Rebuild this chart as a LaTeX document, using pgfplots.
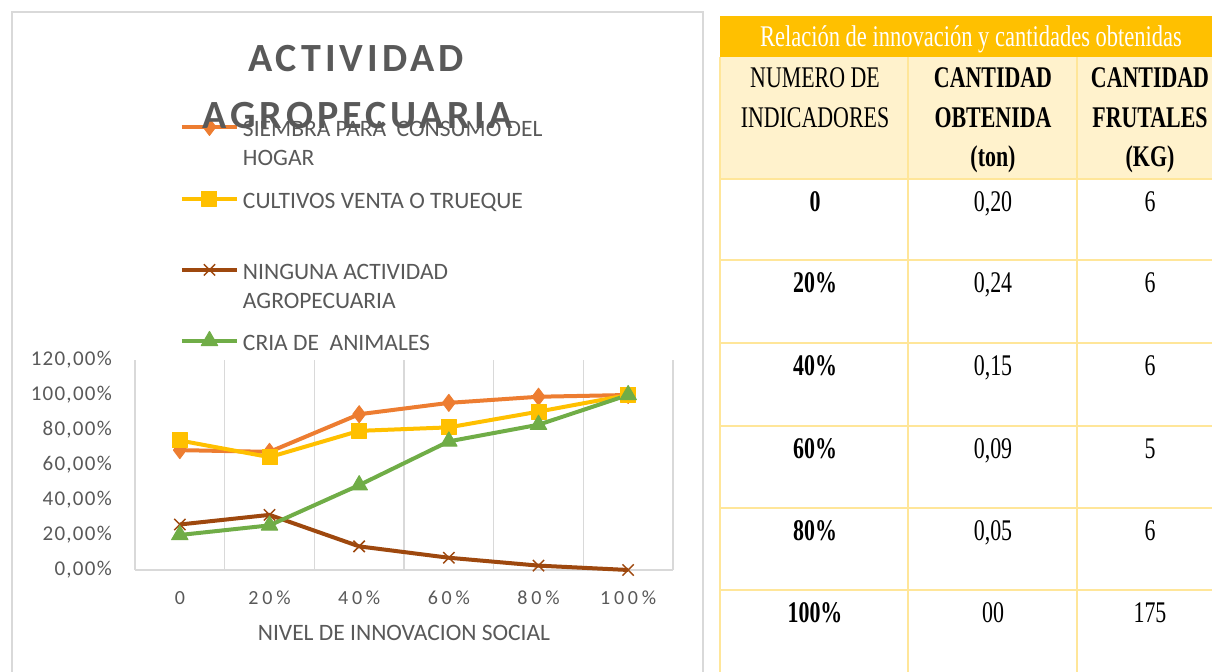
\documentclass[border=0pt]{standalone}
\usepackage{fontspec}
\setmainfont{Carlito}
\newfontfamily\tnr[FakeStretch=0.73]{Liberation Serif}
\newfontfamily\tnrw[FakeStretch=0.75]{Liberation Serif}
\usepackage{pgfplots}
\pgfplotsset{compat=1.18}

\definecolor{cOrange}{HTML}{ED7D31}
\definecolor{cYellow}{HTML}{FFC000}
\definecolor{cBrown}{HTML}{9E480E}
\definecolor{cGreen}{HTML}{70AD47}
\definecolor{txt}{HTML}{595959}
\definecolor{gridc}{HTML}{D9D9D9}
\definecolor{hdr}{HTML}{FFC000}
\definecolor{hdrlight}{HTML}{FFF2CC}
\definecolor{tline}{HTML}{FFE699}

\newcommand\xtf{\fontsize{20bp}{24bp}\selectfont\addfontfeatures{LetterSpace=19}}
\newcommand\ytf{\fontsize{21bp}{25bp}\selectfont\addfontfeatures{LetterSpace=6}}
\newcommand\lgf{\fontsize{23.5bp}{29.5bp}\selectfont}
\newcommand\ttf{\fontsize{40bp}{48bp}\selectfont\bfseries\addfontfeatures{LetterSpace=10}}
\newcommand\tabf{\tnr\fontsize{30bp}{36bp}\selectfont}

\pgfplotsset{
  sOrange/.style={cOrange, line width=4bp, line join=round, mark=diamond*, mark size=8.5bp, mark options={solid, fill=cOrange, draw=cOrange, line width=1bp}},
  sYellow/.style={cYellow, line width=4bp, line join=round, mark=square*, mark size=7.5bp, mark options={solid, fill=cYellow, draw=cYellow, line width=1bp}},
  sBrown/.style={cBrown, line width=4bp, line join=round, mark=x, mark size=8bp, mark options={solid, draw=cBrown, line width=1.5bp}},
  sGreen/.style={cGreen, line width=4bp, line join=round, mark=triangle*, mark size=9.5bp, mark options={solid, fill=cGreen, draw=cGreen, line width=1bp}},
  legaxis/.style={
    at={(135bp,102bp)}, anchor=south west,
    scale only axis, width=538bp, height=210bp,
    xmin=0, xmax=1, ymin=0, ymax=1, hide axis,
    legend image code/.code={\draw[mark repeat=2,mark phase=2,##1] plot coordinates {(0bp,0bp) (27.5bp,0bp) (55bp,0bp)};},
    legend cell align=left,
    legend style={at={(axis description cs:0.0836,#1)}, anchor=north west, draw=none, fill=none,
      inner sep=0pt, outer sep=0pt, font=\lgf, text=txt, column sep=4bp,
      nodes={inner sep=0pt}},
  },
}

\begin{document}
\begin{tikzpicture}
\useasboundingbox (0,0) rectangle (1212bp,672bp);
\fill[white] (0,0) rectangle (1212bp,672bp);
\draw[gridc, line width=1.5bp] (12bp,0bp) -- (12bp,660bp) -- (703bp,660bp) -- (703bp,0bp);

\begin{axis}[
  at={(135bp,102bp)}, anchor=south west,
  scale only axis, width=538bp, height=210bp,
  xmin=-0.5, xmax=5.5, ymin=0, ymax=120,
  axis line style={draw=none},
  major tick length=0pt, minor tick length=0pt,
  xtick={0,1,2,3,4,5},
  xticklabels={0,20\%,40\%,60\%,80\%,100\%},
  minor xtick={-0.5,0.5,1.5,2.5,3.5,4.5,5.5},
  xminorgrids=true,
  minor grid style={gridc, line width=1.5bp},
  ytick={0,20,40,60,80,100,120},
  yticklabels={{0,00\%},{20,00\%},{40,00\%},{60,00\%},{80,00\%},{100,00\%},{120,00\%}},
  extra y ticks={0},
  extra y tick labels={},
  extra y tick style={grid=major, major grid style={gridc, line width=1.5bp}},
  xticklabel style={font=\xtf, text=txt, anchor=center, inner sep=0pt, yshift=-28bp},
  yticklabel style={font=\ytf, text=txt, anchor=east, inner sep=0pt, xshift=-23bp},
  xlabel={NIVEL DE INNOVACION SOCIAL},
  every axis x label/.style={at={(axis description cs:0.5,0)}, anchor=center, yshift=-63bp, font=\lgf, text=txt},
  clip=false,
]
\addplot[sOrange] coordinates {(0,68.5) (1,67.5) (2,89) (3,95.5) (4,99) (5,100)};
\addplot[sYellow] coordinates {(0,74) (1,64.5) (2,79.5) (3,81.5) (4,90.5) (5,100)};
\addplot[sBrown] coordinates {(0,26) (1,31.5) (2,13.5) (3,7) (4,2.5) (5,0)};
\addplot[sGreen] coordinates {(0,20) (1,25.5) (2,48.5) (3,73.5) (4,83) (5,100)};
\end{axis}

\begin{axis}[legaxis=2.1626]
\addlegendimage{sOrange}
\addlegendentry{\begin{tabular}[t]{@{}l@{}}SIEMBRA PARA\ \ CONSUMO DEL\\HOGAR\end{tabular}}
\end{axis}
\begin{axis}[legaxis=1.8198]
\addlegendimage{sYellow}
\addlegendentry{\begin{tabular}[t]{@{}l@{}}CULTIVOS VENTA O TRUEQUE\end{tabular}}
\end{axis}
\begin{axis}[legaxis=1.4817]
\addlegendimage{sBrown}
\addlegendentry{\begin{tabular}[t]{@{}l@{}}NINGUNA ACTIVIDAD\\AGROPECUARIA\end{tabular}}
\end{axis}
\begin{axis}[legaxis=1.1436]
\addlegendimage{sGreen}
\addlegendentry{\begin{tabular}[t]{@{}l@{}}CRIA DE\ \ ANIMALES\end{tabular}}
\end{axis}

\node[font=\ttf, text=txt, anchor=base] at (356bp,600bp) {ACTIVIDAD};
\node[font=\ttf, text=txt, anchor=base] at (358bp,543bp) {AGROPECUARIA};

\begin{scope}[shift={(0bp,672bp)}, x=1bp, y=-1bp]
\fill[hdr] (720,16) rectangle (1212,57);
\fill[hdrlight] (720,57) rectangle (1212,179);
\foreach \yy in {179,260,343,426,508,590}
  \draw[tline, line width=2bp] (720,\yy) -- (1212,\yy);
\foreach \xx in {720,908,1077}
  \draw[tline, line width=2bp] (\xx,57) -- (\xx,672);
\node[font=\tnrw\fontsize{30bp}{36bp}\selectfont, text=white, anchor=base] at (971,47) {Relación de innovación y cantidades obtenidas};
\node[font=\tabf, anchor=base] at (815,88) {NUMERO DE};
\node[font=\tabf, anchor=base] at (815,128) {INDICADORES};
\node[font=\tabf\bfseries, anchor=base] at (993,88) {CANTIDAD};
\node[font=\tabf\bfseries, anchor=base] at (993,128) {OBTENIDA};
\node[font=\tabf\bfseries, anchor=base] at (993,167) {(ton)};
\node[font=\tabf\bfseries, anchor=base] at (1150,88) {CANTIDAD};
\node[font=\tabf\bfseries, anchor=base] at (1150,128) {FRUTALES};
\node[font=\tabf\bfseries, anchor=base] at (1150,167) {(KG)};
\foreach \bl/\a/\b/\c in {212/0/{0,20}/6, 293/20\%/{0,24}/6, 376/40\%/{0,15}/6, 459/60\%/{0,09}/5, 541/80\%/{0,05}/6, 623/100\%/00/175} {
  \node[font=\tabf\bfseries, anchor=base] at (815,\bl) {\a};
  \node[font=\tabf, anchor=base] at (993,\bl) {\b};
  \node[font=\tabf, anchor=base] at (1150,\bl) {\c};
}
\end{scope}
\end{tikzpicture}
\end{document}
